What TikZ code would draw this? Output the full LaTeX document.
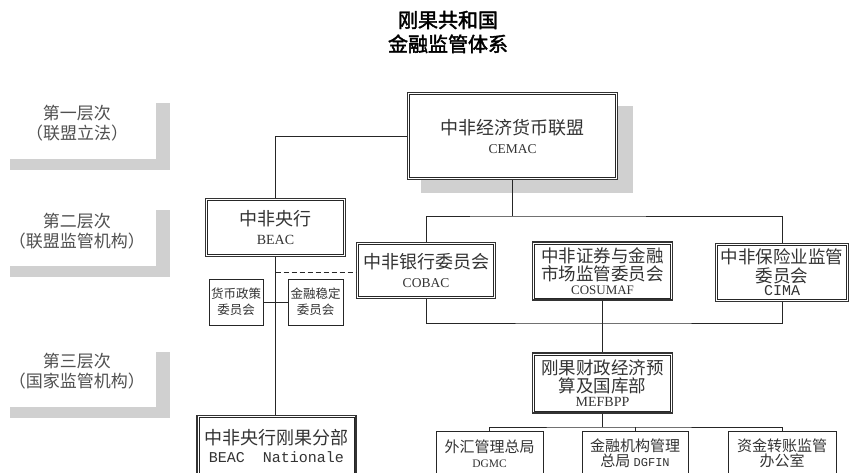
\documentclass[tikz,border=0pt]{standalone}
\usepackage{fontspec}
\setmainfont{Liberation Serif}
\newfontfamily\cjk{Noto Sans CJK SC}
\newfontfamily\cjkb{Noto Sans CJK SC}[FakeBold=2]
\newfontfamily\monof{Liberation Mono}
\definecolor{shadowgray}{HTML}{D0D0D0}
\definecolor{lbltext}{HTML}{505050}
\tikzset{
  dbox/.style={draw=black!80, line width=1.1pt, fill=white, rectangle, inner sep=0pt,
    align=center, text=black!80, font=\cjk\fontsize{18}{22}\selectfont},
  tri/.style={font=\cjk\fontsize{17.5}{19.5}\selectfont},
  dinner/.style={draw=black!85, line width=0.6pt},
  sbox/.style={draw=black!85, line width=0.8pt, fill=white, rectangle, inner sep=0pt,
    align=center, text=black!80, font=\cjk\fontsize{12.5}{16}\selectfont},
  btxt/.style={align=center, text=black!80, font=\cjk\fontsize{15}{18}\selectfont},
  conn/.style={draw=black!85, line width=0.8pt},
  dconn/.style={draw=black!85, line width=0.8pt, dash pattern=on 5pt off 3pt},
  lvl/.style={align=center, text=lbltext, font=\cjk\fontsize{17}{20}\selectfont},
}
\newcommand\dblin[1]{\draw[dinner] ([shift={(2.6,2.6)}]#1.north west) rectangle ([shift={(-2.6,-2.6)}]#1.south east);}
\begin{document}
\begin{tikzpicture}[x=1pt,y=-1pt]
\clip (0,0) rectangle (851,472);
\useasboundingbox (0,0) rectangle (851,472);
\fill[white] (0,0) rectangle (851,472);

% title
\node[align=center, font=\cjkb\fontsize{20}{24}\selectfont] (title) at (448,32) {刚果共和国\\金融监管体系};

% level brackets
\foreach \yt/\yb in {103/170, 210/277, 352/418}{
  \fill[shadowgray] (156,\yt) rectangle (170,\yb);
  \fill[shadowgray] (10,\yb-11) rectangle (170,\yb);
}
\node[lvl] (l1) at (77,123) {第一层次\\（联盟立法）};
\node[lvl] (l2) at (77,231) {第二层次\\（联盟监管机构）};
\node[lvl] (l3) at (77,371) {第三层次\\（国家监管机构）};

% CEMAC shadow
\fill[shadowgray] (421,106) rectangle (633,193);

% boxes
\node[dbox, minimum width=210pt, minimum height=87pt] (cemac) at (512.5,136)
  {中非经济货币联盟\\[-3pt]{\rmfamily\fontsize{13.5}{16}\selectfont CEMAC}};
\node[dbox, minimum width=140pt, minimum height=58pt] (beac) at (275.5,227.5)
  {中非央行\\[-3pt]{\rmfamily\fontsize{14}{17}\selectfont BEAC}};
\node[dbox, minimum width=139pt, minimum height=56pt] (cobac) at (426,270.5)
  {中非银行委员会\\[-3pt]{\rmfamily\fontsize{13.5}{17}\selectfont COBAC}};
\node[dbox, tri, minimum width=140pt, minimum height=58pt] (cosumaf) at (602.5,271)
  {中非证券与金融\\[-1pt]市场监管委员会\\[-6pt]{\rmfamily\fontsize{13}{15}\selectfont COSUMAF}};
\node[dbox, tri, minimum width=133pt, minimum height=58pt] (cima) at (782,272.5)
  {中非保险业监管\\[-1pt]委员会\\[-6pt]{\monof\fontsize{15}{15}\selectfont CIMA}};
\node[sbox, minimum width=54pt, minimum height=46pt] (mp) at (236,302)
  {货币政策\\委员会};
\node[sbox, minimum width=55pt, minimum height=46pt] (fs) at (315.5,302)
  {金融稳定\\委员会};
\node[dbox, tri, minimum width=140pt, minimum height=60pt] (mef) at (602.5,383)
  {刚果财政经济预\\[-1pt]算及国库部\\[-6pt]{\rmfamily\fontsize{14}{15}\selectfont MEFBPP}};
\node[dbox, minimum width=159pt, minimum height=70pt, anchor=north] (nat) at (276.5,415)
  {};
\node[align=center, text=black!80, font=\cjk\fontsize{18}{22}\selectfont] (natt) at (276.5,446)
  {中非央行刚果分部\\[-4pt]{\monof\fontsize{15}{17}\selectfont BEAC\ \ Nationale}};
\node[sbox, minimum width=107pt, minimum height=60pt, anchor=north] (fx) at (489.5,431) {};
\node[sbox, minimum width=106pt, minimum height=60pt, anchor=north] (jr) at (635,431) {};
\node[sbox, minimum width=108pt, minimum height=60pt, anchor=north] (zj) at (782,431) {};
\node[btxt] (fxt) at (489.5,453.5)
  {外汇管理总局\\[-3pt]{\rmfamily\fontsize{11.5}{14}\selectfont DGMC}};
\node[btxt] (jrt) at (635,453.5)
  {金融机构管理\\[-3pt]总局 {\monof\fontsize{12}{14}\selectfont DGFIN}};
\node[btxt] (zjt) at (782,453.5)
  {资金转账监管\\[-3pt]办公室};

% inner lines of the double borders
\foreach \n in {cemac,beac,cobac,cosumaf,cima,mef,nat}{\dblin{\n}}

% connectors
\coordinate (j1) at (512.5,216);
\coordinate (j2) at (602.5,323);
\coordinate (d1) at (275.5,272);
\coordinate (j3) at (602.5,427);
\draw[conn] (cemac.west) -| (beac.north);
\draw[conn] (beac.south) -- (beac.south |- nat.north);
\draw[dconn] (d1) -- (d1 -| cobac.west);
\draw[conn] (mp.east) -- (fs.west);
\draw[conn] (cemac.south) -- (j1);
\draw[conn] (cobac.north) |- (j1) -| (cima.north);
\draw[conn] (cobac.south) |- (j2) -| (cima.south);
\draw[conn] (cosumaf.south) -- (mef.north);
\draw[conn] (mef.south) -- (j3);
\draw[conn] (fx.north) |- (j3) -| (zj.north);
\draw[conn] (jr.north) -- (jr.north |- j3);
\end{tikzpicture}
\end{document}
